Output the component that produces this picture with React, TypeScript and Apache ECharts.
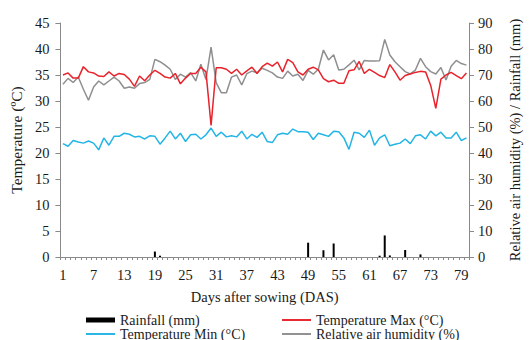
import React, { useEffect, useRef } from 'react';
import * as echarts from 'echarts';

const days: string[] = Array.from({ length: 80 }, (_, i) => String(i + 1));

const rainfall: number[] = [
  0, 0, 0, 0, 0, 0, 0, 0, 0, 0,
  0, 0, 0, 0, 0, 0, 0, 0, 2.1, 0.5,
  0, 0, 0, 0, 0, 0, 0, 0, 0, 0,
  0, 0, 0, 0, 0, 0, 0, 0, 0, 0,
  0, 0, 0, 0, 0, 0, 0, 0, 5.5, 0,
  0, 2.6, 0, 5.2, 0, 0, 0, 0, 0, 0,
  0, 0, 0.5, 8.3, 0.6, 0, 0, 2.7, 0, 0,
  1.0, 0, 0, 0, 0, 0, 0, 0, 0, 0,
];

const tempMax: number[] = [
  35.0, 35.4, 34.4, 34.4, 36.6, 35.6, 35.4, 34.8, 34.7, 35.6,
  34.8, 35.3, 35.1, 34.2, 32.8, 34.8, 33.9, 35.0, 35.9, 35.3,
  34.6, 34.4, 35.3, 33.3, 34.4, 35.3, 35.3, 36.5, 35.6, 25.3,
  36.4, 36.4, 36.1, 35.3, 36.1, 35.0, 35.8, 36.5, 35.3, 36.6,
  37.3, 36.7, 37.5, 35.6, 38.0, 37.4, 35.6, 35.0, 36.1, 36.5,
  36.0, 34.3, 33.7, 34.0, 33.4, 33.4, 35.8, 36.0, 37.6, 35.3,
  36.1, 35.5, 34.9, 34.5, 37.0, 35.6, 34.0, 34.9, 35.2, 35.5,
  35.7, 35.6, 33.0, 28.6, 34.2, 35.0, 35.5, 34.9, 34.3, 35.4,
];

const tempMin: number[] = [
  21.8, 21.3, 22.4, 22.1, 21.9, 22.3, 21.9, 20.6, 22.9, 21.5,
  23.2, 23.2, 23.8, 23.6, 23.1, 23.2, 22.7, 23.3, 23.2, 21.7,
  22.9, 24.2, 22.7, 23.8, 22.2, 23.5, 23.6, 22.7, 23.5, 24.8,
  23.2, 24.0, 23.1, 23.3, 23.1, 24.2, 22.7, 23.6, 23.0, 24.0,
  22.2, 22.0, 23.5, 23.8, 23.6, 24.6, 24.1, 24.1, 24.0, 22.6,
  23.8, 23.5, 23.2, 24.2, 24.1, 22.9, 20.7, 24.0, 23.8, 23.0,
  24.4, 21.5, 22.9, 23.5, 21.4, 21.7, 21.9, 22.7, 21.8, 23.3,
  23.5, 22.7, 24.2, 23.3, 24.0, 22.9, 22.9, 24.0, 22.4, 22.9,
];

const humidity: number[] = [
  66.4, 68.7, 67.1, 69.2, 64.5, 60.3, 65.4, 67.7, 66.2, 67.7,
  69.2, 67.7, 64.9, 65.4, 64.9, 66.7, 67.1, 68.3, 76.0, 75.1,
  73.8, 72.2, 68.3, 70.3, 69.2, 70.9, 67.7, 74.1, 68.3, 80.7,
  67.1, 63.2, 63.2, 69.2, 70.0, 66.2, 70.5, 71.5, 70.9, 72.6,
  71.8, 70.8, 69.2, 68.7, 71.5, 69.6, 70.3, 67.9, 71.8, 70.3,
  72.2, 79.6, 75.8, 77.8, 71.9, 72.2, 73.9, 75.7, 72.0, 75.6,
  75.4, 75.4, 75.5, 83.7, 77.7, 75.1, 73.2, 71.3, 70.4, 71.9,
  76.4, 73.2, 71.3, 70.4, 72.9, 68.1, 73.4, 75.6, 74.4, 73.8,
];

const NAME_RAIN = 'Rainfall (mm)';
const NAME_TMAX = 'Temperature Max (°C)';
const NAME_TMIN = 'Temperature Min (°C)';
const NAME_HUM = 'Relative air humidity (%)';

const FONT = 'Liberation Serif';
const TXT = '#1a1a1a';
const AXIS = '#8a8a8a';
const RED = '#e8232b';
const BLUE = '#23b5e6';
const GRAY = '#8f8f8f';

const lineIcon = 'path://M0 0H30V2H0Z';

export default function App() {
  const ref = useRef<HTMLDivElement>(null);
  useEffect(() => {
    if (!ref.current) return;
    const chart = echarts.init(ref.current, undefined, { renderer: 'svg' });
    const legendBase = {
      orient: 'horizontal',
      itemWidth: 29,
      itemHeight: 5,
      itemGap: 0,
      itemTextGap: 4,
      padding: 0,
      textStyle: { fontFamily: FONT, fontSize: 14, color: TXT, lineHeight: 13 },
    };
    chart.setOption({
      animation: false,
      textStyle: { fontFamily: FONT },
      grid: { left: 58, right: 53, top: 23, bottom: 83 },
      legend: [
        { ...legendBase, left: 86, top: 313, data: [{ name: NAME_RAIN, icon: 'rect' }] },
        { ...legendBase, left: 86, top: 327, data: [{ name: NAME_TMIN, icon: lineIcon }] },
        { ...legendBase, left: 282, top: 313, data: [{ name: NAME_TMAX, icon: lineIcon }] },
        { ...legendBase, left: 282, top: 327, data: [{ name: NAME_HUM, icon: lineIcon }] },
      ],
      xAxis: {
        type: 'category',
        data: days,
        boundaryGap: true,
        name: 'Days after sowing (DAS)',
        nameLocation: 'middle',
        nameGap: 32,
        nameTextStyle: { fontFamily: FONT, fontSize: 14.5, color: TXT },
        axisLine: { lineStyle: { color: AXIS, width: 1 } },
        axisTick: { show: true, interval: 0, length: 3, lineStyle: { color: AXIS } },
        axisLabel: { interval: 5, margin: 10, fontFamily: FONT, fontSize: 14.5, color: TXT },
        splitLine: { show: false },
      },
      yAxis: [
        {
          type: 'value',
          min: 0,
          max: 45,
          interval: 5,
          name: 'Temperature (ºC)',
          nameLocation: 'middle',
          nameGap: 33,
          nameTextStyle: { fontFamily: FONT, fontSize: 15.5, color: TXT },
          axisLine: { show: true, lineStyle: { color: AXIS, width: 1 } },
          axisTick: { show: true, length: 5, lineStyle: { color: AXIS } },
          axisLabel: { margin: 11, fontFamily: FONT, fontSize: 14.5, color: TXT },
          splitLine: { show: false },
        },
        {
          type: 'value',
          min: 0,
          max: 90,
          interval: 10,
          position: 'right',
          name: 'Relative air humidity (%) / Rainfall (mm)',
          nameLocation: 'middle',
          nameGap: 38,
          nameTextStyle: { fontFamily: FONT, fontSize: 14.5, color: TXT },
          axisLine: { show: true, lineStyle: { color: AXIS, width: 1 } },
          axisTick: { show: true, length: 5, lineStyle: { color: AXIS } },
          axisLabel: { margin: 9, fontFamily: FONT, fontSize: 14.5, color: TXT },
          splitLine: { show: false },
        },
      ],
      series: [
        {
          name: NAME_RAIN,
          type: 'bar',
          yAxisIndex: 1,
          data: rainfall,
          barWidth: 2,
          itemStyle: { color: '#000' },
        },
        {
          name: NAME_HUM,
          type: 'line',
          yAxisIndex: 1,
          data: humidity,
          symbol: 'none',
          lineStyle: { color: GRAY, width: 1.5 },
          itemStyle: { color: GRAY },
        },
        {
          name: NAME_TMAX,
          type: 'line',
          yAxisIndex: 0,
          data: tempMax,
          symbol: 'none',
          lineStyle: { color: RED, width: 1.5 },
          itemStyle: { color: RED },
        },
        {
          name: NAME_TMIN,
          type: 'line',
          yAxisIndex: 0,
          data: tempMin,
          symbol: 'none',
          lineStyle: { color: BLUE, width: 1.5 },
          itemStyle: { color: BLUE },
        },
      ],
    });
    return () => chart.dispose();
  }, []);
  return (
    <div
      ref={ref}
      style={{ position: 'fixed', left: 0, top: 0, width: 530, height: 340, background: '#fff' }}
    />
  );
}
